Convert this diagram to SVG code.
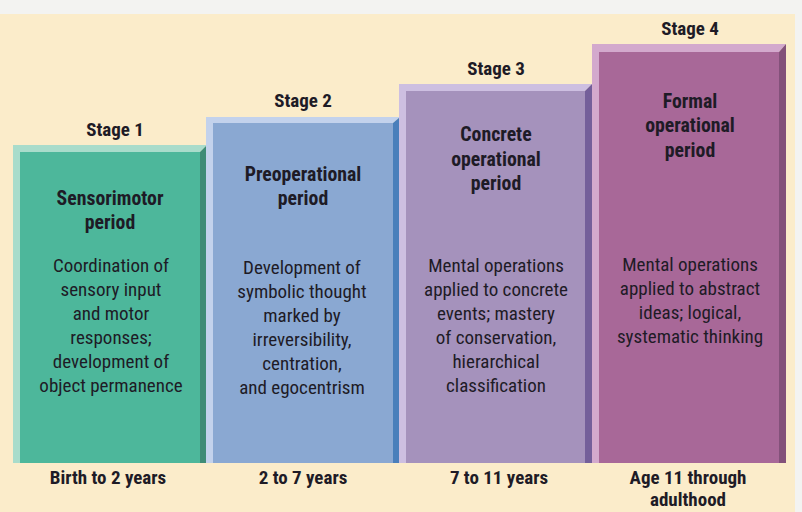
<svg xmlns="http://www.w3.org/2000/svg" width="802" height="512" viewBox="0 0 802 512">
<style>
text{font-family:"Liberation Sans Narrow","Roboto Condensed","Liberation Sans",sans-serif;fill:#1e1b26;text-anchor:middle;font-size:19px}
.b{font-weight:bold}
.t{font-weight:bold;font-size:19.8px}
.st{font-weight:bold;font-size:19px}
</style>
<rect x="0" y="0" width="802" height="512" fill="#f3f3f1"/>
<rect x="0" y="14" width="795" height="498" fill="#fbecca"/>
<g id="stage1">
<polygon points="13,145 207,145 200,152 20,152 20,463 13,463" fill="#a9dccb"/>
<rect x="20" y="152" width="180" height="311" fill="#4db79b"/>
<polygon points="200,152 207,145 207,463 200,463" fill="#3f8c76"/>
<text class="st" x="115" y="136">Stage 1</text>
<text class="t" x="110" y="205">Sensorimotor</text>
<text class="t" x="110" y="229">period</text>
<text x="111" y="272">Coordination of</text>
<text x="111" y="296">sensory input</text>
<text x="111" y="320">and motor</text>
<text x="111" y="344">responses;</text>
<text x="111" y="368">development of</text>
<text x="111" y="392">object permanence</text>
<text class="b" x="108" y="484">Birth to 2 years</text>
</g>
<g id="stage2">
<polygon points="206,117 400,117 393,123 213,123 213,463 206,463" fill="#c3d2ec"/>
<rect x="213" y="123" width="180" height="340" fill="#8aa8d2"/>
<polygon points="393,123 400,117 400,463 393,463" fill="#4a7fbb"/>
<text class="st" x="303" y="107">Stage 2</text>
<text class="t" x="303" y="181">Preoperational</text>
<text class="t" x="303" y="205">period</text>
<text x="302" y="274">Development of</text>
<text x="302" y="298">symbolic thought</text>
<text x="302" y="322">marked by</text>
<text x="302" y="346">irreversibility,</text>
<text x="302" y="370">centration,</text>
<text x="302" y="394">and egocentrism</text>
<text class="b" x="303" y="484">2 to 7 years</text>
</g>
<g id="stage3">
<polygon points="399,84 592,84 585,91 406,91 406,463 399,463" fill="#cdbfe1"/>
<rect x="406" y="91" width="179" height="372" fill="#a592bc"/>
<polygon points="585,91 592,84 592,463 585,463" fill="#745f9a"/>
<text class="st" x="496" y="75">Stage 3</text>
<text class="t" x="496" y="141">Concrete</text>
<text class="t" x="496" y="166">operational</text>
<text class="t" x="496" y="190">period</text>
<text x="496" y="272">Mental operations</text>
<text x="496" y="296">applied to concrete</text>
<text x="496" y="320">events; mastery</text>
<text x="496" y="344">of conservation,</text>
<text x="496" y="368">hierarchical</text>
<text x="496" y="392">classification</text>
<text class="b" x="499" y="484">7 to 11 years</text>
</g>
<g id="stage4">
<polygon points="592,44 786,44 779,52 599,52 599,463 592,463" fill="#d3a9cd"/>
<rect x="599" y="52" width="180" height="411" fill="#a86898"/>
<polygon points="779,52 786,44 786,463 779,463" fill="#83517a"/>
<text class="st" x="690" y="35">Stage 4</text>
<text class="t" x="690" y="108">Formal</text>
<text class="t" x="690" y="132">operational</text>
<text class="t" x="690" y="157">period</text>
<text x="690" y="271">Mental operations</text>
<text x="690" y="295">applied to abstract</text>
<text x="690" y="319">ideas; logical,</text>
<text x="690" y="343">systematic thinking</text>
<text class="b" x="688" y="484">Age 11 through</text>
<text class="b" x="688" y="506">adulthood</text>
</g>
<g id="connectors"/>
</svg>
